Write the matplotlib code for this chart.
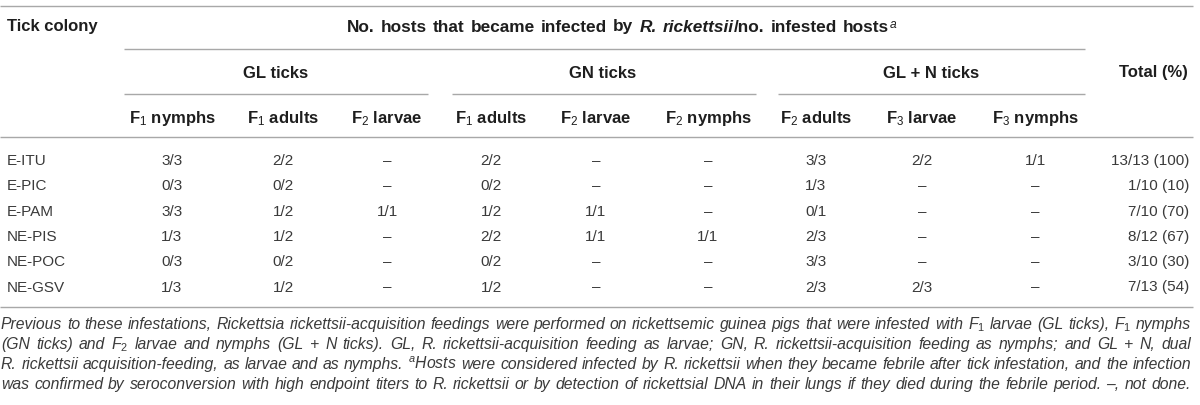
import matplotlib
matplotlib.use("Agg")
import matplotlib.pyplot as plt

# ---- table content ----
colonies = ["E-ITU", "E-PIC", "E-PAM", "NE-PIS", "NE-POC", "NE-GSV"]

gl_f1_nymphs = ["3/3", "0/3", "3/3", "1/3", "0/3", "1/3"]
gl_f1_adults = ["2/2", "0/2", "1/2", "1/2", "0/2", "1/2"]
gl_f2_larvae = ["–", "–", "1/1", "–", "–", "–"]
gn_f1_adults = ["2/2", "0/2", "1/2", "2/2", "0/2", "1/2"]
gn_f2_larvae = ["–", "–", "1/1", "1/1", "–", "–"]
gn_f2_nymphs = ["–", "–", "–", "1/1", "–", "–"]
gln_f2_adults = ["3/3", "1/3", "0/1", "2/3", "3/3", "2/3"]
gln_f3_larvae = ["2/2", "–", "–", "–", "–", "2/3"]
gln_f3_nymphs = ["1/1", "–", "–", "–", "–", "–"]
totals = ["13/13 (100)", "1/10 (10)", "7/10 (70)", "8/12 (67)", "3/10 (30)", "7/13 (54)"]

groups = ["GL ticks", "GN ticks", "GL + N ticks"]
sub_headers = [r"F$_1$ nymphs", r"F$_1$ adults", r"F$_2$ larvae",
               r"F$_1$ adults", r"F$_2$ larvae", r"F$_2$ nymphs",
               r"F$_2$ adults", r"F$_3$ larvae", r"F$_3$ nymphs"]

footnote = [
    r"Previous to these infestations, Rickettsia rickettsii-acquisition feedings were performed on rickettsemic guinea pigs that were infested with F$_{\mathit{1}}$ larvae (GL ticks), F$_{\mathit{1}}$ nymphs",
    r"(GN ticks) and F$_{\mathit{2}}$ larvae and nymphs (GL + N ticks). GL, R. rickettsii-acquisition feeding as larvae; GN, R. rickettsii-acquisition feeding as nymphs; and GL + N, dual",
    r"R. rickettsii acquisition-feeding, as larvae and as nymphs. $^{\mathit{a}}$Hosts were considered infected by R. rickettsii when they became febrile after tick infestation, and the infection",
    r"was confirmed by seroconversion with high endpoint titers to R. rickettsii or by detection of rickettsial DNA in their lungs if they died during the febrile period. –, not done.",
]

# ---- layout (pixel coordinates) ----
col_x = [172, 283, 387, 491, 596, 708, 816, 922, 1035]
group_x = [276, 603, 931]
group_lines = [(124, 428), (452, 756), (778, 1085)]
row_y0, row_dy = 165, 25.3

plt.rcParams["font.family"] = ["Liberation Sans", "DejaVu Sans"]
plt.rcParams["mathtext.fontset"] = "custom"
plt.rcParams["mathtext.rm"] = "Liberation Sans"
plt.rcParams["mathtext.it"] = "Liberation Sans:italic"
plt.rcParams["mathtext.bf"] = "Liberation Sans:bold"

TXT = "#3a3a3a"
HEAD = "#1e1e1e"
RULE = "#a8a8a8"
FS = 11
HFS = 12

fig = plt.figure(figsize=(12, 4.05), dpi=100)
ax = fig.add_axes([0, 0, 1, 1])
ax.set_xlim(0, 1200)
ax.set_ylim(405, 0)
ax.axis("off")
renderer = fig.canvas.get_renderer()


def width(s, **kw):
    t = ax.text(0, 0, s, **kw)
    w = t.get_window_extent(renderer).width
    t.remove()
    return w


def word_width(word):
    return sum(width(s, **kw) for s, kw in word)


def draw_word(x, y, word):
    for s, kw in word:
        ax.text(x, y, s, ha="left", va="baseline", **kw)
        x += width(s, **kw)


def draw_line(x, y, words, space, target=None, ha="left"):
    ws = [word_width(w) for w in words]
    gap = space
    if target is not None and len(words) > 1:
        gap = (target - sum(ws)) / (len(words) - 1)
    total = sum(ws) + gap * (len(words) - 1)
    if ha == "center":
        x -= total / 2
    for w, wd in zip(words, ws):
        draw_word(x, y, w)
        x += wd + gap


def hline(y, x0, x1):
    ax.plot([x0, x1], [y, y], color=RULE, lw=1.0, solid_capstyle="butt")


# rules
hline(5.5, 0, 1193)
hline(49, 124, 1085)
for x0, x1 in group_lines:
    hline(94, x0, x1)
hline(137, 0, 1193)
hline(306.5, 0, 1193)

# header
bold = dict(fontsize=HFS, fontweight="bold", color=HEAD)
ax.text(7, 31.5, "Tick colony", ha="left", va="baseline", **bold)

mb = dict(fontsize=12.4, fontweight="bold", color=HEAD)
mb_it = dict(fontsize=12.4, fontweight="bold", fontstyle="italic", color=HEAD)
msup = dict(fontsize=12.4, color=HEAD)
head_words = [[(w, mb)] for w in "No. hosts that became infected by".split()]
head_words += [[("R.", mb_it)], [("rickettsii", mb_it), ("/no.", mb)],
               [("infested", mb)], [("hosts", mb), (r"$^{\mathit{a}}$", msup)]]
sp = width("a a", **mb) - width("aa", **mb)
draw_line(622, 31.5, head_words, sp, target=551, ha="center")

for gx, g in zip(group_x, groups):
    ax.text(gx, 77.5, g, ha="center", va="baseline", **bold)
ax.text(1188, 77.5, "Total (%)", ha="right", va="baseline", **bold)

for cx, h in zip(col_x, sub_headers):
    ax.text(cx, 123, h, ha="center", va="baseline", **bold)

# body
columns = [gl_f1_nymphs, gl_f1_adults, gl_f2_larvae, gn_f1_adults, gn_f2_larvae,
           gn_f2_nymphs, gln_f2_adults, gln_f3_larvae, gln_f3_nymphs]
body = dict(fontsize=FS, color=TXT)
for i, name in enumerate(colonies):
    y = row_y0 + i * row_dy
    ax.text(7, y, name, ha="left", va="baseline", **body)
    for cx, col in zip(col_x, columns):
        ax.text(cx, y, col[i], ha="center", va="baseline", **body)
    ax.text(1189, y, totals[i], ha="right", va="baseline", **body)

# footnote: biggest size that fits, then justified to the table width
fn_size = 12.0
while True:
    note = dict(fontsize=fn_size, fontstyle="italic", color=TXT)
    sp = width("a a", **note) - width("aa", **note)
    widest = max(sum(width(w, **note) for w in line.split(" "))
                 + sp * (len(line.split(" ")) - 1) for line in footnote)
    if widest <= 1184 or fn_size < 8:
        break
    fn_size -= 0.1

for k, line in enumerate(footnote):
    words = [[(w, note)] for w in line.split(" ")]
    draw_line(1, 329 + k * 20, words, sp, target=1190)

fig.savefig("out.png", dpi=100)
